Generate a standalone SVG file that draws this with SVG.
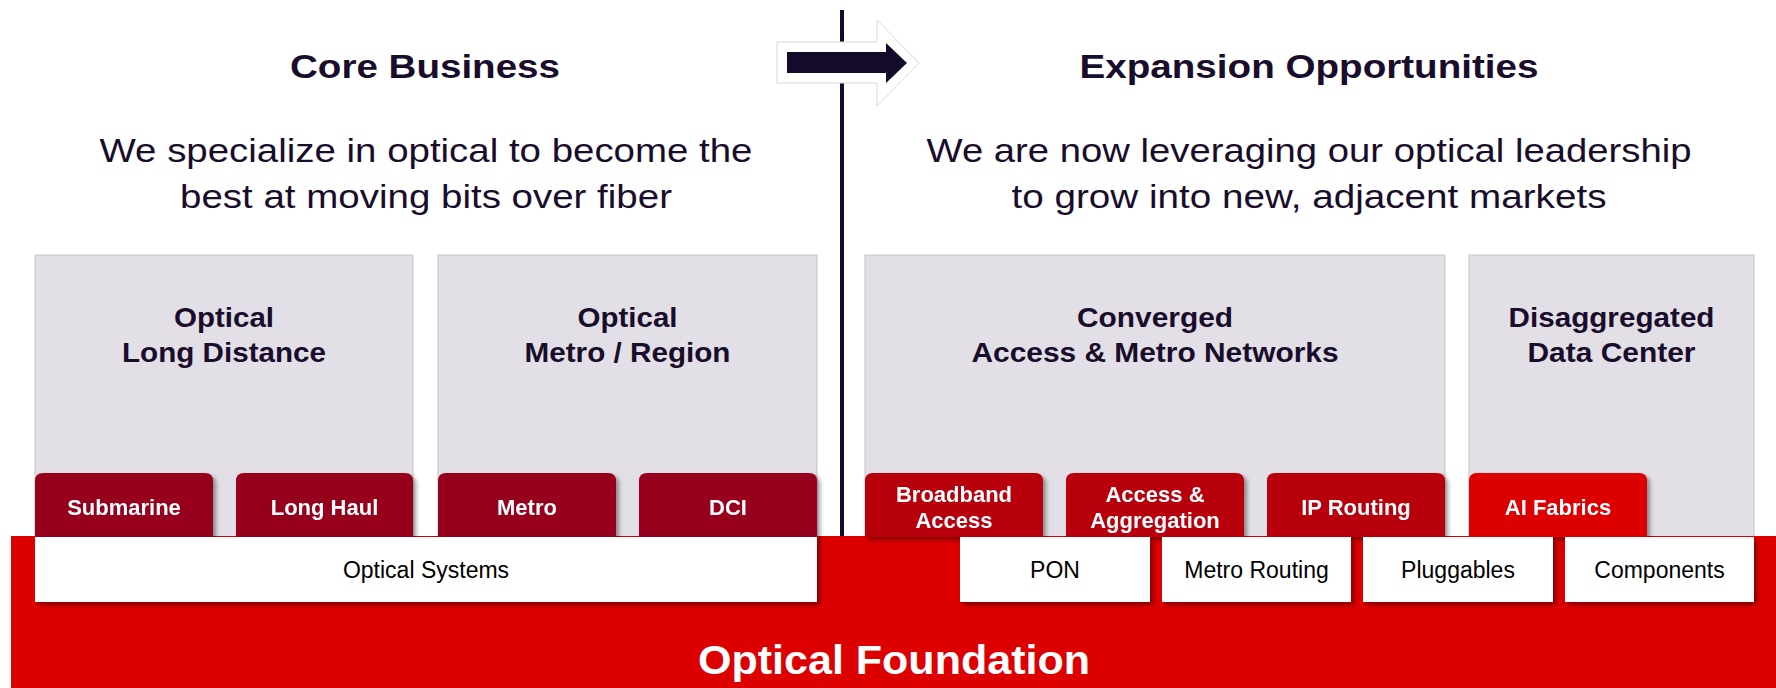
<svg xmlns="http://www.w3.org/2000/svg" width="1776" height="688" viewBox="0 0 1776 688">
  <defs>
    <style>
      text { font-family: "Liberation Sans", Arial, sans-serif; }
      .title { font-size: 33px; font-weight: bold; fill: #1A0D2B; text-anchor: middle; }
      .sub { font-size: 33px; fill: #1A0D2B; text-anchor: middle; }
      .head { font-size: 28.5px; font-weight: bold; fill: #1A0D2B; text-anchor: middle; }
      .tabt { font-size: 22px; font-weight: bold; fill: #FFFFFF; text-anchor: middle; }
      .wt { font-size: 23px; fill: #000000; text-anchor: middle; }
      .found { font-size: 41px; font-weight: bold; fill: #FFFFFF; text-anchor: middle; }
      .gray { fill: #E2E0E6; stroke: #C4C3CA; stroke-width: 1; }
      .wbox { fill: #FFFFFF; }
      .core { fill: #96001E; }
      .exp { fill: #B8000F; }
      .ai { fill: #DC0000; }
    </style>
    <filter id="sh" x="-10%" y="-10%" width="130%" height="140%">
      <feDropShadow dx="3" dy="3" stdDeviation="2" flood-color="#000000" flood-opacity="0.4"/>
    </filter>
  </defs>

  <rect x="0" y="0" width="1776" height="688" fill="#FFFFFF"/>

  <!-- Column headers -->
  <g id="core-header">
    <text class="title" x="425" y="78" textLength="270" lengthAdjust="spacingAndGlyphs">Core Business</text>
    <text class="sub" x="426" y="162" textLength="653" lengthAdjust="spacingAndGlyphs">We specialize in optical to become the</text>
    <text class="sub" x="426" y="208" textLength="492" lengthAdjust="spacingAndGlyphs">best at moving bits over fiber</text>
  </g>
  <g id="expansion-header">
    <text class="title" x="1309" y="78" textLength="459" lengthAdjust="spacingAndGlyphs">Expansion Opportunities</text>
    <text class="sub" x="1309" y="162" textLength="765" lengthAdjust="spacingAndGlyphs">We are now leveraging our optical leadership</text>
    <text class="sub" x="1309" y="208" textLength="595" lengthAdjust="spacingAndGlyphs">to grow into new, adjacent markets</text>
  </g>

  <!-- Gray market boxes -->
  <g id="box-long-distance">
    <rect class="gray" x="35" y="255" width="378" height="282"/>
    <text class="head" x="224" y="327" textLength="100" lengthAdjust="spacingAndGlyphs">Optical</text>
    <text class="head" x="224" y="362" textLength="204" lengthAdjust="spacingAndGlyphs">Long Distance</text>
  </g>
  <g id="box-metro-region">
    <rect class="gray" x="438" y="255" width="379" height="282"/>
    <text class="head" x="627.5" y="327" textLength="100" lengthAdjust="spacingAndGlyphs">Optical</text>
    <text class="head" x="627.5" y="362" textLength="206" lengthAdjust="spacingAndGlyphs">Metro / Region</text>
  </g>
  <g id="box-converged">
    <rect class="gray" x="865" y="255" width="580" height="282"/>
    <text class="head" x="1155" y="327" textLength="156" lengthAdjust="spacingAndGlyphs">Converged</text>
    <text class="head" x="1155" y="362" textLength="367" lengthAdjust="spacingAndGlyphs">Access &amp; Metro Networks</text>
  </g>
  <g id="box-datacenter">
    <rect class="gray" x="1469" y="255" width="285" height="282"/>
    <text class="head" x="1611.5" y="327" textLength="206" lengthAdjust="spacingAndGlyphs">Disaggregated</text>
    <text class="head" x="1611.5" y="362" textLength="168" lengthAdjust="spacingAndGlyphs">Data Center</text>
  </g>

  <!-- Divider and arrow -->
  <g id="divider">
    <rect x="840" y="10" width="4" height="527" fill="#140A2A"/>
  </g>
  <g id="arrow">
    <polygon points="777,42 877,42 877,20 919,63 877,106 877,83 777,83" fill="#FFFFFF" stroke="#D9D9DD" stroke-width="1"/>
    <polygon points="787,52 886,52 886,43 907,63 886,83 886,73 787,73" fill="#140A2A"/>
  </g>

  <!-- Foundation bar -->
  <g id="optical-foundation">
    <rect x="11" y="536" width="1765" height="152" fill="#DC0000"/>
    <text class="found" x="894" y="674" textLength="392" lengthAdjust="spacingAndGlyphs">Optical Foundation</text>
  </g>

  <!-- Tabs -->
  <g id="tab-submarine" filter="url(#sh)">
    <path class="core" d="M35,537 V481 Q35,473 43,473 H205 Q213,473 213,481 V537 Z"/>
    <text class="tabt" x="124" y="515">Submarine</text>
  </g>
  <g id="tab-long-haul" filter="url(#sh)">
    <path class="core" d="M236,537 V481 Q236,473 244,473 H405 Q413,473 413,481 V537 Z"/>
    <text class="tabt" x="324.5" y="515">Long Haul</text>
  </g>
  <g id="tab-metro" filter="url(#sh)">
    <path class="core" d="M438,537 V481 Q438,473 446,473 H608 Q616,473 616,481 V537 Z"/>
    <text class="tabt" x="527" y="515">Metro</text>
  </g>
  <g id="tab-dci" filter="url(#sh)">
    <path class="core" d="M639,537 V481 Q639,473 647,473 H809 Q817,473 817,481 V537 Z"/>
    <text class="tabt" x="728" y="515">DCI</text>
  </g>
  <g id="tab-broadband" filter="url(#sh)">
    <path class="exp" d="M865,537 V481 Q865,473 873,473 H1035 Q1043,473 1043,481 V537 Z"/>
    <text class="tabt" x="954" y="502">Broadband</text>
    <text class="tabt" x="954" y="528">Access</text>
  </g>
  <g id="tab-access-aggregation" filter="url(#sh)">
    <path class="exp" d="M1066,537 V481 Q1066,473 1074,473 H1236 Q1244,473 1244,481 V537 Z"/>
    <text class="tabt" x="1155" y="502">Access &amp;</text>
    <text class="tabt" x="1155" y="528">Aggregation</text>
  </g>
  <g id="tab-ip-routing" filter="url(#sh)">
    <path class="exp" d="M1267,537 V481 Q1267,473 1275,473 H1437 Q1445,473 1445,481 V537 Z"/>
    <text class="tabt" x="1356" y="515">IP Routing</text>
  </g>
  <g id="tab-ai-fabrics" filter="url(#sh)">
    <path class="ai" d="M1469,537 V481 Q1469,473 1477,473 H1639 Q1647,473 1647,481 V537 Z"/>
    <text class="tabt" x="1558" y="515">AI Fabrics</text>
  </g>

  <!-- White technology boxes -->
  <g id="optical-systems">
    <rect class="wbox" x="35" y="537" width="782" height="65" filter="url(#sh)"/>
    <text class="wt" x="426" y="578">Optical Systems</text>
  </g>
  <g id="pon">
    <rect class="wbox" x="960" y="537" width="190" height="65" filter="url(#sh)"/>
    <text class="wt" x="1055" y="578">PON</text>
  </g>
  <g id="metro-routing">
    <rect class="wbox" x="1162" y="537" width="189" height="65" filter="url(#sh)"/>
    <text class="wt" x="1256.5" y="578">Metro Routing</text>
  </g>
  <g id="pluggables">
    <rect class="wbox" x="1363" y="537" width="190" height="65" filter="url(#sh)"/>
    <text class="wt" x="1458" y="578">Pluggables</text>
  </g>
  <g id="components">
    <rect class="wbox" x="1565" y="537" width="189" height="65" filter="url(#sh)"/>
    <text class="wt" x="1659.5" y="578">Components</text>
  </g>

  <g id="connectors"></g>
</svg>
